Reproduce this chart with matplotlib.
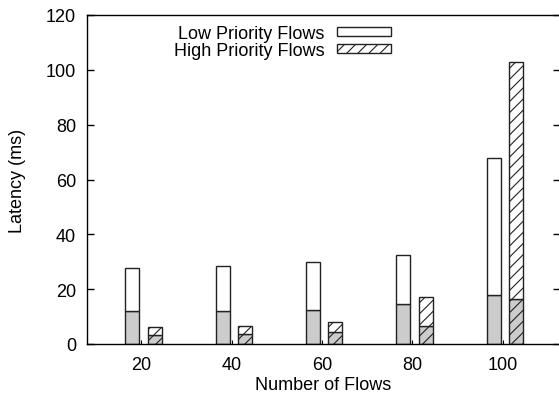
import matplotlib.pyplot as plt
from matplotlib.patches import Patch

# values
flows = [20, 40, 60, 80, 100]
low_total = [27.7, 28.3, 29.8, 32.5, 67.7]
low_base = [12.2, 12.2, 12.5, 14.6, 18.0]
high_total = [6.1, 6.5, 8.1, 17.0, 103.0]
high_base = [3.3, 3.6, 4.5, 6.5, 16.4]

plt.rcParams['font.family'] = ['Liberation Sans', 'DejaVu Sans']
plt.rcParams['font.size'] = 13
plt.rcParams['hatch.linewidth'] = 0.8

fig = plt.figure(figsize=(5.59, 4.02), dpi=100)
ax = fig.add_axes([87 / 559, 57 / 402, 473 / 559, 329 / 402])

width = 3.1
grey = '#cccccc'
edge = '#222222'

low_x = [f - 2 for f in flows]
high_x = [f + 3 for f in flows]

# low priority: grey lower part, white upper part
ax.bar(low_x, low_base, width, color=grey, edgecolor=edge, linewidth=1)
ax.bar(low_x, [t - b for t, b in zip(low_total, low_base)], width, bottom=low_base,
       color='white', edgecolor=edge, linewidth=1)

# high priority: same, hatched
ax.bar(high_x, high_base, width, color=grey, edgecolor=edge, linewidth=1, hatch='///')
ax.bar(high_x, [t - b for t, b in zip(high_total, high_base)], width, bottom=high_base,
       color='white', edgecolor=edge, linewidth=1, hatch='///')

ax.set_xlim(8, 112.7)
ax.set_ylim(0, 120)
ax.set_xticks(flows)
ax.set_yticks(range(0, 121, 20))
ax.tick_params(axis='y', direction='in', length=5, right=True, width=1)
ax.tick_params(axis='x', direction='in', length=3, width=0.8, pad=9)
ax.tick_params(axis='y', pad=8)
for s in ax.spines.values():
    s.set_linewidth(1)
    s.set_color('black')

ax.set_xlabel('Number of Flows', labelpad=2)
ax.set_ylabel('Latency (ms)', labelpad=14)

handles = [Patch(facecolor='white', edgecolor=edge, linewidth=1),
           Patch(facecolor='white', edgecolor=edge, linewidth=1, hatch='///')]
ax.legend(handles, ['Low Priority Flows', 'High Priority Flows'],
          loc='upper right', bbox_to_anchor=(0.643, 0.97), frameon=False,
          markerfirst=False, handlelength=3.0, handleheight=0.4,
          handletextpad=0.7, labelspacing=0.02, borderpad=0, borderaxespad=0)

plt.savefig('out.png', dpi=100)
